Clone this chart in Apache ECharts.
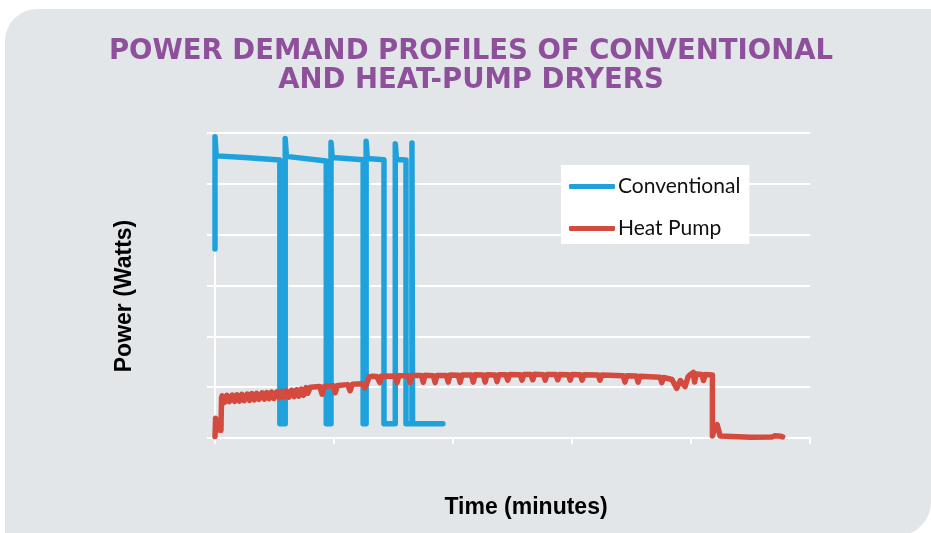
<!DOCTYPE html>
<html>
<head>
<meta charset="utf-8">
<script src="https://cdn.jsdelivr.net/npm/echarts@6/dist/echarts.min.js"></script>
<style>
  html, body { margin: 0; padding: 0; background: #ffffff; }
  #wrap { position: relative; width: 931px; height: 533px; overflow: hidden; background: #ffffff; }
  #panel { position: absolute; left: 5px; top: 9px; width: 926px; height: 527px; background: #e2e6e9; border-radius: 32px 0 34px 0; }
  #chart { position: absolute; left: 0; top: 0; width: 931px; height: 533px; }
</style>
</head>
<body>
<div id="wrap"><div id="panel"></div><div id="chart"></div></div>
<script>
// ---- Data (time in minutes, power in watts) ----
const seriesNames = ['Conventional', 'Heat Pump'];

const convTime  = [0, 0, 0.2, 5.0, 10.9, 10.9, 11.8, 11.8, 12.0, 18.7,
                   18.7, 19.5, 19.5, 19.7, 24.9, 24.9, 25.4, 25.4, 25.6, 28.4,
                   28.4, 30.3, 30.3, 30.5, 32.1, 32.1, 33.1, 33.1, 33.2, 38.3];
const convWatts = [3720, 5925, 5550, 5520, 5470, 280, 280, 5890, 5540, 5450,
                   280, 280, 5820, 5520, 5475, 280, 280, 5840, 5500, 5475,
                   280, 280, 5790, 5480, 5470, 280, 280, 5805, 280, 280];

const hpTime  = [0, 0.1, 0.3, 0.5, 0.8, 1.0, 1.1, 1.2, 1.6, 2.0,
                 2.4, 2.9, 3.3, 3.7, 4.1, 4.5, 4.9, 5.4, 5.8, 6.2,
                 6.6, 7.0, 7.4, 7.9, 8.3, 8.7, 9.1, 9.5, 9.9, 10.4,
                 10.8, 11.2, 11.6, 12.0, 12.4, 12.9, 13.3, 13.7, 14.1, 14.5,
                 14.9, 15.3, 15.6, 16.0, 17.6, 18.0, 18.4, 19.9, 20.2, 20.6,
                 22.3, 22.7, 23.1, 24.8, 25.2, 25.5, 25.9, 26.5, 27.2, 27.5,
                 27.7, 27.9, 30.3, 30.6, 30.9, 32.5, 32.8, 33.1, 34.7, 35.0,
                 35.3, 36.7, 37.0, 37.3, 38.9, 39.2, 39.5, 40.9, 41.2, 41.5,
                 43.1, 43.4, 43.7, 45.1, 45.4, 45.7, 47.1, 47.4, 47.7, 48.9,
                 49.2, 49.5, 51.3, 51.6, 51.9, 53.1, 53.4, 53.7, 55.2, 55.5,
                 55.8, 57.3, 57.6, 57.9, 59.4, 59.7, 60.0, 61.4, 61.7, 62.0,
                 64.4, 64.7, 65.0, 68.6, 68.9, 69.2, 70.8, 71.1, 71.4, 74.8,
                 75.1, 75.4, 76.8, 77.6, 78.2, 79.0, 79.5, 79.9, 80.4, 80.6,
                 80.9, 81.8, 82.1, 82.4, 83.6, 83.6, 84.0, 84.4, 84.9, 85.2,
                 90.0, 93.6, 94.2, 95.0, 95.4];
const hpWatts = [30, 390, 360, 160, 190, 150, 790, 830, 700, 840,
                 715, 845, 720, 850, 725, 860, 735, 865, 740, 875,
                 750, 880, 760, 890, 765, 895, 775, 905, 780, 910,
                 790, 920, 800, 930, 805, 940, 815, 950, 825, 960,
                 840, 990, 880, 1000, 1015, 860, 1020, 1030, 890, 1035,
                 1050, 930, 1055, 1065, 990, 1070, 1200, 1215, 1210, 1215,
                 1090, 1215, 1220, 1090, 1225, 1225, 1090, 1230, 1230, 1095,
                 1235, 1225, 1090, 1230, 1230, 1100, 1240, 1235, 1095, 1240,
                 1240, 1100, 1245, 1240, 1100, 1245, 1240, 1110, 1245, 1245,
                 1140, 1250, 1245, 1140, 1250, 1250, 1145, 1255, 1245, 1140,
                 1250, 1250, 1145, 1250, 1245, 1140, 1250, 1245, 1140, 1245,
                 1240, 1140, 1240, 1225, 1100, 1225, 1220, 1100, 1215, 1195,
                 1090, 1190, 1150, 975, 1130, 1010, 1200, 1250, 1290, 1100,
                 1260, 1250, 1130, 1250, 1240, 40, 200, 260, 40, 15,
                 15, 20, 45, 35, 20];

// Axis settings (labels are not shown in the original)
const xMin = 0, xMax = 100, xStep = 20;
const yMin = 0, yMax = 6000, yStep = 1000;

const titleLines = ['POWER DEMAND PROFILES OF CONVENTIONAL', 'AND HEAT-PUMP DRYERS'];
const xAxisName = 'Time (minutes)';
const yAxisName = 'Power (Watts)';

// ---- Chart ----
const pair = (xs, ys) => xs.map((x, i) => [x, ys[i]]);
const chart = echarts.init(document.getElementById('chart'), null, { renderer: 'canvas' });

chart.setOption({
  animation: false,
  backgroundColor: 'transparent',
  grid: { left: 215, right: 121, top: 133, bottom: 95, containLabel: false },
  graphic: [
    { type: 'text', z: 10, x: 471, y: 37,
      style: { text: titleLines.join('\n'), font: 'bold 27.5px "DejaVu Sans"',
               fill: '#8e509b', textAlign: 'center', lineHeight: 29 } },
    { type: 'text', z: 10, x: 526, y: 508,
      style: { text: xAxisName, font: 'bold 23px "Liberation Sans"', fill: '#000',
               textAlign: 'center', textVerticalAlign: 'middle' } },
    { type: 'text', z: 10, x: 125, y: 296, rotation: Math.PI / 2,
      style: { text: yAxisName, font: 'bold 23px "Liberation Sans"', fill: '#000',
               textAlign: 'center', textVerticalAlign: 'middle' } }
  ],
  legend: {
    orient: 'vertical', left: 561, top: 165,
    data: seriesNames,
    icon: 'roundRect', itemWidth: 46, itemHeight: 5,
    itemGap: 21,
    padding: [11, 9, 5, 8],
    backgroundColor: '#ffffff',
    textStyle: { fontFamily: 'Lato', fontSize: 21, color: '#111', padding: [0, 0, 0, -2], lineHeight: 20 }
  },
  xAxis: {
    type: 'value', min: xMin, max: xMax, interval: xStep,
    axisLine: { show: true, lineStyle: { color: '#ffffff', width: 2 } },
    axisTick: { show: true, length: 6, lineStyle: { color: '#ffffff', width: 2 } },
    axisLabel: { show: false },
    splitLine: { show: false }
  },
  yAxis: {
    type: 'value', min: yMin, max: yMax, interval: yStep,
    axisLine: { show: true, lineStyle: { color: '#ffffff', width: 2 } },
    axisTick: { show: true, length: 8, lineStyle: { color: '#ffffff', width: 2 } },
    axisLabel: { show: false },
    splitLine: { show: true, lineStyle: { color: '#ffffff', width: 2 } }
  },
  series: [
    { name: seriesNames[0], type: 'line', data: pair(convTime, convWatts), showSymbol: false, symbol: 'none',
      color: '#1fa2dc', lineStyle: { color: '#1fa2dc', width: 5.5, cap: 'round', join: 'round' }, z: 2 },
    { name: seriesNames[1], type: 'line', data: pair(hpTime, hpWatts), showSymbol: false, symbol: 'none',
      color: '#d44a3e', lineStyle: { color: '#d44a3e', width: 5.5, cap: 'round', join: 'round' }, z: 3 }
  ]
});
</script>
</body>
</html>
